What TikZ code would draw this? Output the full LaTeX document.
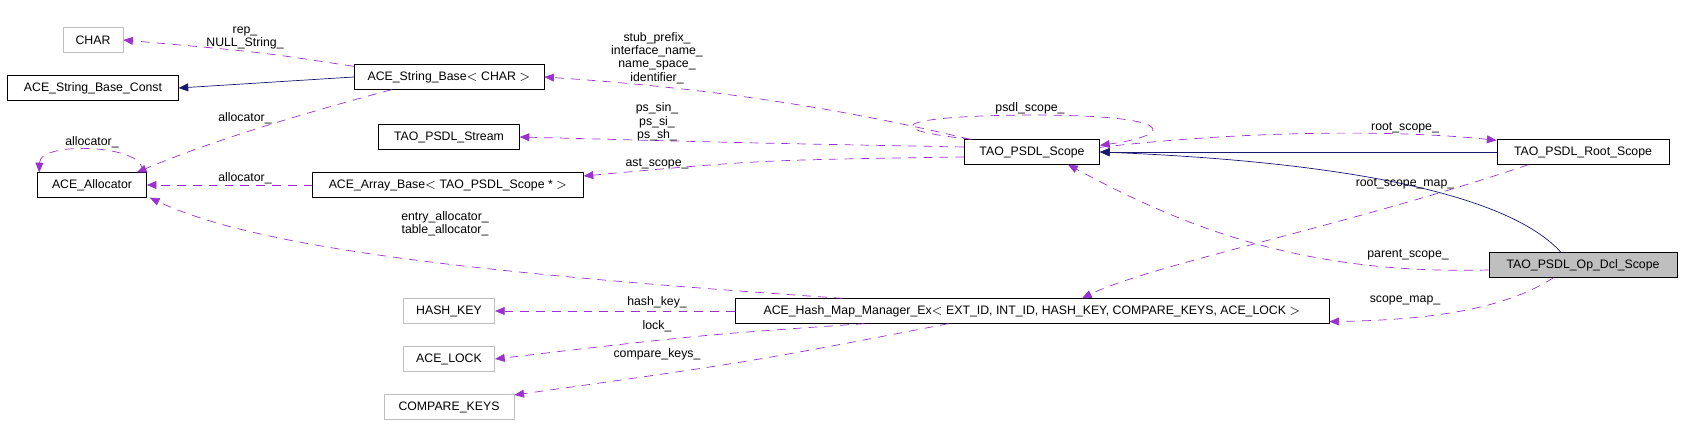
\documentclass[tikz,border=0pt]{standalone}
\usepackage{fontspec}
\setmainfont{Liberation Sans}
\usetikzlibrary{calc,arrows.meta}

\definecolor{depcol}{HTML}{9A32CD}
\definecolor{inhcol}{HTML}{191970}
\definecolor{extcol}{HTML}{BFBFBF}

\tikzset{
  box/.style={draw=black, minimum height=14pt, inner sep=1pt},
  extbox/.style={box, draw=extcol},
  curbox/.style={box, fill=extcol},
  dep/.style={draw=depcol, dashed, dash pattern=on 5pt off 4pt,
    -{Triangle[length=5.5pt,width=4.5pt,fill=depcol]}},
  inh/.style={draw=inhcol, -{Triangle[length=5.5pt,width=4.5pt,fill=inhcol]}},
  lbl/.style={align=center, inner sep=0pt, font=\fontsize{7pt}{7.6pt}\selectfont}
}

\begin{document}
\begin{tikzpicture}[x=0.02cm, y=-0.02cm, font=\fontsize{7pt}{8pt}\selectfont]
  \useasboundingbox (0,0) rectangle (1683,435);

    %----------------------------------------------------------
    % Classes
    %----------------------------------------------------------
  \node[extbox, minimum width=34pt] (char) at (93,40) {CHAR};
  \node[box, minimum width=97pt] (sconst) at (93,88) {ACE\_String\_Base\_Const};
  \node[box, minimum width=108pt] (sbase) at (449,77) {ACE\_String\_Base$<$ CHAR $>$};
  \node[box, minimum width=62pt] (alloc) at (92,185) {ACE\_Allocator};
  \node[box, minimum width=80pt] (stream) at (449,137) {TAO\_PSDL\_Stream};
  \node[box, minimum width=154pt] (array) at (448,185) {ACE\_Array\_Base$<$ TAO\_PSDL\_Scope * $>$};
  \node[box, minimum width=77pt] (scope) at (1032,152) {TAO\_PSDL\_Scope};
  \node[box, minimum width=98pt] (root) at (1583,152) {TAO\_PSDL\_Root\_Scope};
  \node[curbox, minimum width=107pt] (opdcl) at (1583,265) {TAO\_PSDL\_Op\_Dcl\_Scope};
  \node[box, minimum width=338pt] (hash) at (1032,311)
    {ACE\_Hash\_Map\_Manager\_Ex$<$ EXT\_ID, INT\_ID, HASH\_KEY, COMPARE\_KEYS, ACE\_LOCK $>$};
  \node[extbox, minimum width=52pt] (hashkey) at (449,311) {HASH\_KEY};
  \node[extbox, minimum width=52pt] (acelock) at (449,359) {ACE\_LOCK};
  \node[extbox, minimum width=74pt] (cmpkeys) at (449,407) {COMPARE\_KEYS};

    %----------------------------------------------------------
    % Inheritance
    %----------------------------------------------------------
  \draw[inh] (sbase.west) -- (sconst.east);
  \draw[inh] (root.west) -- (scope.east);
  \draw[inh] ($(opdcl.north)+(-22,0)$) .. controls (1500,185) and (1300,160) .. (scope.east);

    %----------------------------------------------------------
    % Members
    %----------------------------------------------------------
  \draw[dep] ($(sbase.north west)+(0,2)$) .. controls (260,52) .. (char.east);
  \node[lbl] (lrep) at (245,38) {rep\_\\NULL\_String\_};

  \draw[dep] ($(sbase.south west)+(38,0)$) .. controls (260,125) and (190,150) .. ($(alloc.north east)+(-10,0)$);
  \node[lbl] (lalloc1) at (245,118) {allocator\_};

  \draw[dep] ($(alloc.north east)+(-5,0)$) .. controls (150,145) and (40,140) .. ($(alloc.north west)+(2,0)$);
  \node[lbl] (lalloc2) at (92,142) {allocator\_};

  \draw[dep] (array.west) -- (alloc.east);
  \node[lbl] (lalloc3) at (245,178) {allocator\_};

  \draw[dep] ($(scope.north west)+(6,0)$) .. controls (800,98) and (650,84) .. (sbase.east);
  \node[lbl] (lnames) at (657,58) {stub\_prefix\_\\interface\_name\_\\name\_space\_\\identifier\_};

  \draw[dep] ($(scope.west)+(0,-5)$) .. controls (750,143) .. (stream.east);
  \node[lbl] (lps) at (657,122) {ps\_sin\_\\ps\_si\_\\ps\_sh\_};

  \draw[dep] ($(scope.west)+(0,5)$) .. controls (760,160) .. ($(array.east)+(0,-9)$);
  \node[lbl] (last) at (657,164) {ast\_scope\_};

  \draw[dep] ($(scope.north west)+(8,0)$) .. controls (880,130) and (890,116) .. (1030,115)
    .. controls (1180,115) and (1175,135) .. ($(scope.north east)+(0,6)$);
  \node[lbl] (lpsdl) at (1030,108) {psdl\_scope\_};

  \draw[dep] ($(scope.north east)+(0,8)$) .. controls (1250,130) and (1400,130) .. ($(root.north west)+(0,1)$);
  \node[lbl] (lroot) at (1405,128) {root\_scope\_};

  \draw[dep] ($(opdcl.west)+(0,5)$) .. controls (1300,275) and (1180,225) .. ($(scope.south)+(36,0)$);
  \node[lbl] (lparent) at (1408,255) {parent\_scope\_};

  \draw[dep] ($(root.south west)+(32,0)$) .. controls (1350,225) and (1150,265) .. ($(hash.north)+(50,0)$);
  \node[lbl] (lrootmap) at (1405,184) {root\_scope\_map\_};

  \draw[dep] ($(opdcl.south west)+(65,0)$) .. controls (1500,312) and (1420,320) .. ($(hash.south east)+(0,-2)$);
  \node[lbl] (lscopemap) at (1405,300) {scope\_map\_};

  \draw[dep] ($(hash.north west)+(108,0)$) .. controls (500,275) and (260,250) .. ($(alloc.south east)+(3,0)$);
  \node[lbl] (ltable) at (445,224) {entry\_allocator\_\\table\_allocator\_};

  \draw[dep] (hash.west) -- (hashkey.east);
  \node[lbl] (lhash) at (657,302) {hash\_key\_};

  \draw[dep] ($(hash.south west)+(130,0)$) .. controls (700,335) .. (acelock.east);
  \node[lbl] (llock) at (657,326) {lock\_};

  \draw[dep] ($(hash.south west)+(214,0)$) .. controls (750,362) .. ($(cmpkeys.east)+(0,-12)$);
  \node[lbl] (lcmp) at (657,354) {compare\_keys\_};
\end{tikzpicture}
\end{document}
